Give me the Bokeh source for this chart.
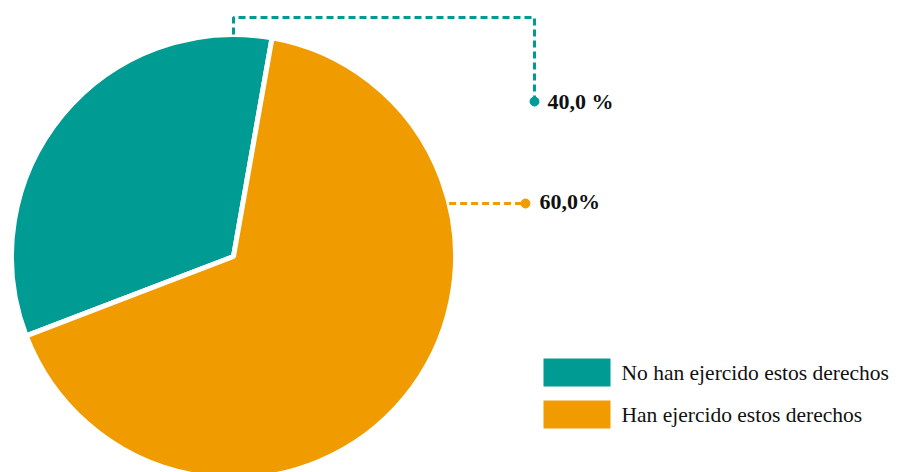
import math
from bokeh.plotting import figure
from bokeh.models import Range1d
from bokeh.core.properties import value
from bokeh.embed import file_html
from bokeh.resources import INLINE

# ---- data ----
categories = ["No han ejercido estos derechos", "Han ejercido estos derechos"]
shares = [33.6, 66.4]              # slice shares as drawn in the picture
pct_labels = ["40,0 %", "60,0%"]   # labels printed on the chart
colors = ["#009c94", "#f09c00"]

W, H = 903, 472
p = figure(width=W, height=H, output_backend="svg", toolbar_location=None,
           x_range=Range1d(0, W), y_range=Range1d(0, H),
           min_border=0, outline_line_color=None)
p.axis.visible = False
p.grid.visible = False

def sy(y):  # screen y -> data y
    return H - y

cx, cy, r = 233, sy(256), 222
start = 80.0
angles = []
a = start
for s in shares:
    a0 = a
    a1 = a + s / 100 * 360
    angles.append((a0, a1))
    a = a1

p.wedge(x=[cx, cx], y=[cy, cy], radius=r,
        start_angle=[t[0] for t in angles], end_angle=[t[1] for t in angles],
        start_angle_units="deg", end_angle_units="deg",
        fill_color=colors, line_color="white", line_width=5)

font = value("Liberation Serif")

# leader for teal slice (from top of pie)
tx = cx
ty = cy + math.sqrt(r * r - (tx - cx) ** 2)
p.line([tx, tx, 534, 534], [ty, sy(17), sy(17), sy(101)],
       line_color=colors[0], line_width=3, line_dash="7 4")
p.scatter([534], [sy(101)], size=9, color=colors[0])
p.text([547], [sy(101)], text=[pct_labels[0]], text_font=font,
       text_font_style="bold", text_font_size="22px", text_baseline="middle",
       text_color="#111111")

# leader for orange slice
oy = sy(203)
ox = cx + math.sqrt(r * r - (oy - cy) ** 2)
p.line([ox, 525], [oy, oy], line_color=colors[1], line_width=3, line_dash="7 4")
p.scatter([525], [oy], size=9, color=colors[1])
p.text([539], [oy + 2], text=[pct_labels[1]], text_font=font,
       text_font_style="bold", text_font_size="22px", text_baseline="middle",
       text_color="#111111")

# legend
ly = [sy(372), sy(414)]
p.rect(x=[576.5, 576.5], y=ly, width=67, height=28, fill_color=colors, line_color=None)
p.text(x=[621, 621], y=ly, text=categories, text_font=font,
       text_font_size="21.5px", text_baseline="middle", text_color="#111111")

open("out.html", "w").write(file_html(p, INLINE))
